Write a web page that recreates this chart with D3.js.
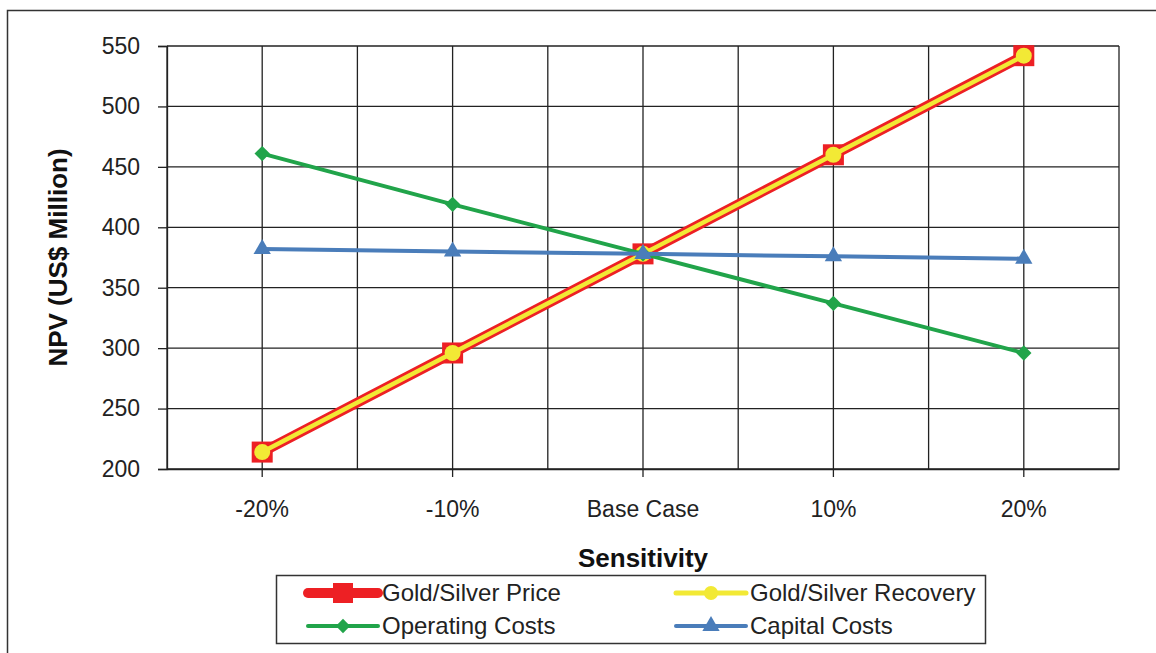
<!DOCTYPE html>
<html>
<head>
<meta charset="utf-8">
<script src="https://cdn.jsdelivr.net/npm/d3@7"></script>
<style>
  body { margin: 0; background: #fff; }
  svg { display: block; font-family: "Liberation Sans", Arial, sans-serif; }
</style>
</head>
<body>
<div id="chart"></div>
<script>
const categories = ["-20%", "-10%", "Base Case", "10%", "20%"];
const goldSilverPrice = [214, 296, 378, 460, 542];
const goldSilverRecovery = [214, 296, 378, 460, 542];
const operatingCosts = [461, 419, 378, 337, 296];
const capitalCosts = [382, 380, 378, 376, 374];
const yTicks = [200, 250, 300, 350, 400, 450, 500, 550];

const width = 1156;
const height = 653;
const margin = { left: 167, right: 37, top: 46, bottom: 184 };

const svg = d3.select("#chart")
  .append("svg")
  .attr("width", width)
  .attr("height", height);

// outer frame
svg.append("rect")
  .attr("x", 7.5).attr("y", 10.5)
  .attr("width", 1170).attr("height", 670)
  .attr("fill", "none").attr("stroke", "#333").attr("stroke-width", 1.5);

const x = d3.scaleBand()
  .domain(categories)
  .range([margin.left, width - margin.right]);

const y = d3.scaleLinear()
  .domain([200, 550])
  .range([height - margin.bottom, margin.top]);

const cx = d => x(d) + x.bandwidth() / 2;

// gridlines: band edges and band centres
const gridX = [];
categories.forEach(c => { gridX.push(x(c)); gridX.push(cx(c)); });
gridX.push(width - margin.right);

svg.append("g")
  .selectAll("line")
  .data(gridX)
  .enter().append("line")
  .attr("x1", d => d).attr("x2", d => d)
  .attr("y1", y(550)).attr("y2", y(200))
  .attr("stroke", "#222").attr("stroke-width", 1.3);

svg.append("g")
  .selectAll("line")
  .data(yTicks)
  .enter().append("line")
  .attr("x1", margin.left).attr("x2", width - margin.right)
  .attr("y1", d => y(d)).attr("y2", d => y(d))
  .attr("stroke", "#222").attr("stroke-width", 1.3);

// axes
const yAxis = svg.append("g")
  .attr("transform", `translate(${margin.left},0)`)
  .call(d3.axisLeft(y).tickValues(yTicks).tickSize(9).tickPadding(18));
yAxis.select(".domain").attr("stroke", "#222").attr("stroke-width", 1.3);
yAxis.selectAll(".tick line").attr("stroke", "#222").attr("stroke-width", 1.3);
yAxis.selectAll("text").attr("font-size", 23).attr("fill", "#222")
  .attr("font-family", "Liberation Sans, Arial, sans-serif");

const xAxis = svg.append("g")
  .attr("transform", `translate(0,${y(200)})`)
  .call(d3.axisBottom(x).tickSize(8).tickPadding(24).tickSizeOuter(0));
xAxis.select(".domain").attr("stroke", "#222").attr("stroke-width", 1.3);
xAxis.selectAll(".tick line").attr("stroke", "#222").attr("stroke-width", 1.3);
xAxis.selectAll("text").attr("font-size", 23).attr("fill", "#222")
  .attr("font-family", "Liberation Sans, Arial, sans-serif");

// axis titles
svg.append("text")
  .attr("x", cx("Base Case")).attr("y", 567)
  .attr("text-anchor", "middle")
  .attr("font-size", 26).attr("font-weight", "bold").attr("fill", "#111")
  .text("Sensitivity");

svg.append("text")
  .attr("transform", `translate(67,${(y(200) + y(550)) / 2}) rotate(-90)`)
  .attr("text-anchor", "middle")
  .attr("font-size", 26).attr("font-weight", "bold").attr("fill", "#111")
  .text("NPV (US$ Million)");

// series
const red = "#ed2024", yellow = "#f2e935", green = "#21a44a", blue = "#4a7dba";
const line = d3.line().x((d, i) => cx(categories[i])).y(d => y(d));

function square(g, vals, size, color) {
  g.selectAll(null).data(vals).enter().append("rect")
    .attr("x", (d, i) => cx(categories[i]) - size / 2)
    .attr("y", d => y(d) - size / 2)
    .attr("width", size).attr("height", size)
    .attr("fill", color);
}
function symbol(g, vals, type, size, color) {
  g.selectAll(null).data(vals).enter().append("path")
    .attr("d", d3.symbol().type(type).size(size))
    .attr("transform", (d, i) => `translate(${cx(categories[i])},${y(d)})`)
    .attr("fill", color);
}

const gPrice = svg.append("g");
gPrice.append("path").datum(goldSilverPrice).attr("d", line)
  .attr("fill", "none").attr("stroke", red).attr("stroke-width", 10);
square(gPrice, goldSilverPrice, 21, red);

const gRec = svg.append("g");
gRec.append("path").datum(goldSilverRecovery).attr("d", line)
  .attr("fill", "none").attr("stroke", yellow).attr("stroke-width", 4.5);
gRec.selectAll(null).data(goldSilverRecovery).enter().append("circle")
  .attr("cx", (d, i) => cx(categories[i])).attr("cy", d => y(d))
  .attr("r", 8).attr("fill", yellow);

const gOp = svg.append("g");
gOp.append("path").datum(operatingCosts).attr("d", line)
  .attr("fill", "none").attr("stroke", green).attr("stroke-width", 4);
symbol(gOp, operatingCosts, d3.symbolDiamond2, 150, green);

const gCap = svg.append("g");
gCap.append("path").datum(capitalCosts).attr("d", line)
  .attr("fill", "none").attr("stroke", blue).attr("stroke-width", 4);
symbol(gCap, capitalCosts, d3.symbolTriangle, 130, blue);

// legend
const legend = svg.append("g");
legend.append("rect")
  .attr("x", 276.5).attr("y", 575.5).attr("width", 709).attr("height", 68)
  .attr("fill", "#fff").attr("stroke", "#333").attr("stroke-width", 1.5);

const legendItems = [
  { name: "Gold/Silver Price", color: red, w: 10, mark: "square", lx: 308, ly: 593 },
  { name: "Gold/Silver Recovery", color: yellow, w: 5, mark: "circle", lx: 676, ly: 593 },
  { name: "Operating Costs", color: green, w: 4, mark: "diamond", lx: 308, ly: 626 },
  { name: "Capital Costs", color: blue, w: 4, mark: "triangle", lx: 676, ly: 626 }
];

legendItems.forEach(it => {
  const g = legend.append("g");
  g.append("line")
    .attr("x1", it.lx).attr("x2", it.lx + 70)
    .attr("y1", it.ly).attr("y2", it.ly)
    .attr("stroke", it.color).attr("stroke-width", it.w).attr("stroke-linecap", "round");
  const mx = it.lx + 35;
  if (it.mark === "square") {
    g.append("rect").attr("x", mx - 10).attr("y", it.ly - 10).attr("width", 20).attr("height", 20).attr("fill", it.color);
  } else if (it.mark === "circle") {
    g.append("circle").attr("cx", mx).attr("cy", it.ly).attr("r", 7).attr("fill", it.color);
  } else if (it.mark === "diamond") {
    g.append("path").attr("d", d3.symbol().type(d3.symbolDiamond2).size(130)())
      .attr("transform", `translate(${mx},${it.ly})`).attr("fill", it.color);
  } else {
    g.append("path").attr("d", d3.symbol().type(d3.symbolTriangle).size(130)())
      .attr("transform", `translate(${mx},${it.ly})`).attr("fill", it.color);
  }
  g.append("text")
    .attr("x", it.lx + 74).attr("y", it.ly + 8)
    .attr("font-size", 24).attr("fill", "#222")
    .text(it.name);
});
</script>
</body>
</html>
